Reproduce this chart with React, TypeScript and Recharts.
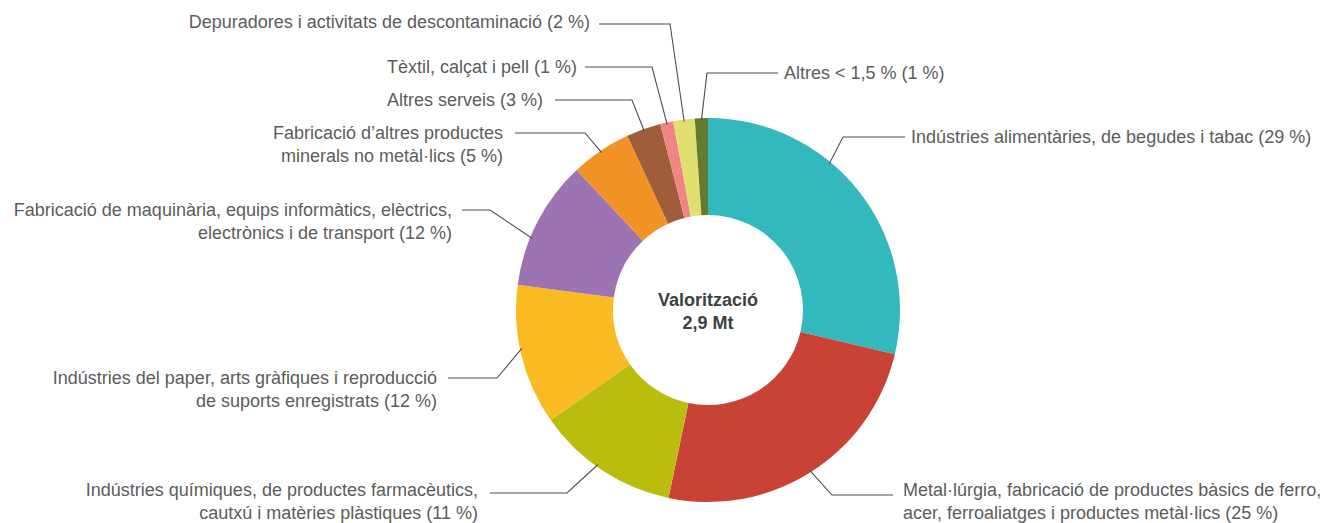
import { Cell, Pie, PieChart } from "recharts";

// share of valorised waste by sector
const sectors = [
  "alimentaries",
  "metallurgia",
  "quimiques",
  "paper",
  "maquinaria",
  "minerals",
  "serveis",
  "textil",
  "depuradores",
  "altres",
];
const shares = [28.7, 24.6, 12.0, 11.8, 10.9, 5.1, 2.9, 1.1, 1.8, 1.1];
const labels = [
  ["Indústries alimentàries, de begudes i tabac (29 %)"],
  ["Metal·lúrgia, fabricació de productes bàsics de ferro,", "acer, ferroaliatges i productes metàl·lics (25 %)"],
  ["Indústries químiques, de productes farmacèutics,", "cautxú i matèries plàstiques (11 %)"],
  ["Indústries del paper, arts gràfiques i reproducció", "de suports enregistrats (12 %)"],
  ["Fabricació de maquinària, equips informàtics, elèctrics,", "electrònics i de transport (12 %)"],
  ["Fabricació d’altres productes", "minerals no metàl·lics (5 %)"],
  ["Altres serveis (3 %)"],
  ["Tèxtil, calçat i pell (1 %)"],
  ["Depuradores i activitats de descontaminació (2 %)"],
  ["Altres < 1,5 % (1 %)"],
];
const colors = [
  "#33b8be",
  "#c84335",
  "#bbbd0e",
  "#f9ba22",
  "#9d74b3",
  "#f29425",
  "#a05d39",
  "#f08683",
  "#dfe06f",
  "#637a30",
];

const data = sectors.map((s, i) => ({ name: s, value: shares[i] }));

// leader line layout, offsets from the pie centre: elbow, line end, text anchor
const CX = 708;
const CY = 310;
const leaders = [
  { shift: 12, elbow: [135, -173], end: [197, -173], text: [203, -173], anchor: "start" },
  { shift: 0, elbow: [124, 185], end: [185, 185], text: [195, 180], anchor: "start" },
  { shift: -2, elbow: [-141, 183], end: [-218, 183], text: [-230, 180], anchor: "end" },
  { shift: -2, elbow: [-211, 68], end: [-260, 68], text: [-271, 68], anchor: "end" },
  { shift: 5, elbow: [-218, -100], end: [-246, -100], text: [-256, -100], anchor: "end" },
  { shift: 0, elbow: [-123, -177], end: [-193, -177], text: [-205, -177], anchor: "end" },
  { shift: 0, elbow: [-76, -210], end: [-153, -210], text: [-165, -210], anchor: "end" },
  { shift: 0, elbow: [-56, -243], end: [-123, -243], text: [-131, -243], anchor: "end" },
  { shift: 0, elbow: [-38, -286], end: [-109, -286], text: [-118, -288], anchor: "end" },
  { shift: 0, elbow: [-1, -237], end: [70, -237], text: [76, -237], anchor: "start" },
];

const RAD = Math.PI / 180;

function renderLabel(props: any) {
  const { cx, cy, midAngle, outerRadius, index } = props;
  const l = leaders[index];
  const a = (midAngle + l.shift) * RAD;
  const r = outerRadius - 2;
  const sx = cx + r * Math.cos(-a);
  const sy = cy + r * Math.sin(-a);
  const pts = `${sx},${sy} ${cx + l.elbow[0]},${cy + l.elbow[1]} ${cx + l.end[0]},${cy + l.end[1]}`;
  const tx = cx + l.text[0];
  const ty = cy + l.text[1];
  return (
    <g key={`lbl-${index}`}>
      <polyline points={pts} fill="none" stroke="#4d4d4d" strokeWidth={1.1} />
      <text
        x={tx}
        y={ty}
        textAnchor={l.anchor as any}
        fill="#5c5c5c"
        fontSize={18}
        fontFamily="'Liberation Sans', Arial, sans-serif"
      >
        {labels[index].map((line, j) => (
          <tspan key={j} x={tx} dy={j === 0 ? 6 : 23}>
            {line}
          </tspan>
        ))}
      </text>
    </g>
  );
}

export default function App() {
  return (
    <div style={{ position: "absolute", left: 0, top: 0, background: "#fff" }}>
      <PieChart width={1326} height={523} margin={{ top: 0, right: 0, bottom: 0, left: 0 }}>
        <Pie
          data={data}
          dataKey="value"
          nameKey="name"
          cx={CX}
          cy={CY}
          innerRadius={95}
          outerRadius={192}
          startAngle={90}
          endAngle={-270}
          stroke="none"
          label={renderLabel}
          labelLine={false}
          isAnimationActive={false}
        >
          {data.map((d, i) => (
            <Cell key={d.name} fill={colors[i]} />
          ))}
        </Pie>
        <text
          x={CX}
          y={CY - 10}
          textAnchor="middle"
          dominantBaseline="central"
          fontSize={18}
          fontWeight="bold"
          fill="#3a4242"
          fontFamily="'Liberation Sans', Arial, sans-serif"
        >
          Valorització
        </text>
        <text
          x={CX}
          y={CY + 13}
          textAnchor="middle"
          dominantBaseline="central"
          fontSize={18}
          fontWeight="bold"
          fill="#3a4242"
          fontFamily="'Liberation Sans', Arial, sans-serif"
        >
          2,9 Mt
        </text>
      </PieChart>
    </div>
  );
}
